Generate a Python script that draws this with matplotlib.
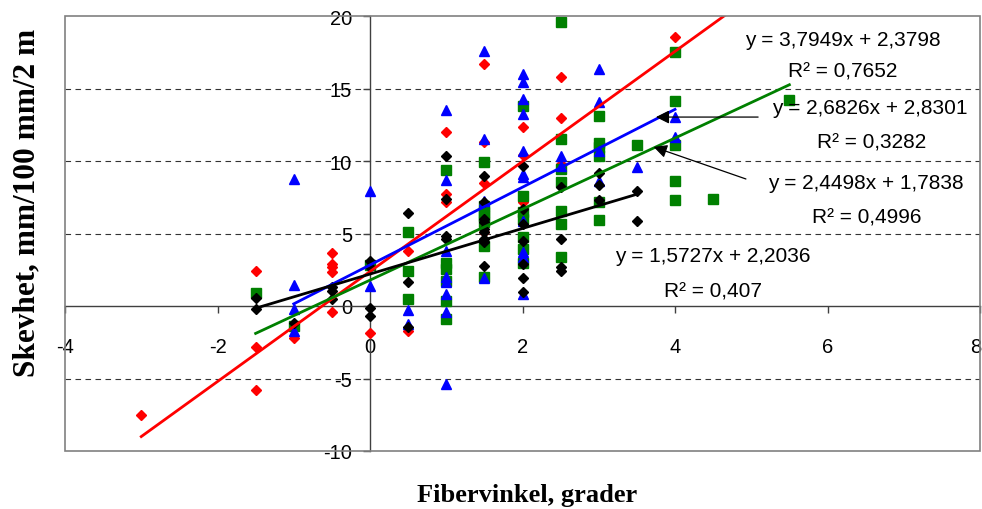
import matplotlib
matplotlib.use('Agg')
import matplotlib.pyplot as plt
from matplotlib.patches import Rectangle
from matplotlib.transforms import offset_copy
import numpy as np

# ---- data ----
red_x = [-3, -1.5, -1.5, -1.5, -1, -0.5, -0.5, -0.5, -0.5, -0.5, 0, 0.5, 0.5,
         1, 1, 1, 1.5, 1.5, 1.5, 1.5, 2, 2, 2, 2.5, 2.5, 2.5, 4]
red_y = [-7.5, 2.43, -2.8, -5.8, -2.2, 3.66, 2.9, 2.67, 2.37, -0.4, -1.86, 3.82, -1.7,
         11.98, 7.72, 7.15, 16.69, 11.33, 8.46, 5.08, 12.32, 10.41, 7.15, 15.82, 12.94, 9.79, 18.57]

green_x = [-1.5, -1, 0, 0.5, 0.5, 0.5,
           1, 1, 1, 1, 1, 1,
           1.5, 1.5, 1.5, 1.5, 1.5, 1.5, 1.5,
           2, 2, 2, 2, 2, 2, 2,
           2.5, 2.5, 2.5, 2.5, 2.5, 2.5, 2.5,
           3, 3, 3, 3, 3, 3,
           3.5, 4, 4, 4, 4, 4, 4.5, 5.5]
green_y = [0.9, -1.35, 2.85, 5.08, 2.44, 0.48,
           9.38, 3.0, 2.55, 1.75, 0.37, -0.9,
           9.95, 6.9, 6.5, 6.2, 5.8, 4.16, 1.98,
           13.81, 7.6, 6.46, 6.0, 4.74, 3.93, 3.0,
           19.6, 11.52, 9.45, 8.57, 6.57, 5.66, 3.36,
           13.13, 11.22, 10.94, 10.37, 7.15, 5.95,
           11.13, 17.54, 14.16, 11.13, 8.6, 7.31, 7.38, 14.23]

blue_x = [-1, -1, -1, -1, 0, 0, 0.5, 0.5,
          1, 1, 1, 1, 1, 1, 1, 1,
          1.5, 1.5, 1.5, 1.5,
          2, 2, 2, 2, 2, 2, 2, 2, 2, 2, 2,
          2.5, 2.5, 3, 3, 3, 3, 3.5, 4, 4]
blue_y = [8.76, 1.47, -0.2, -1.7, 7.9, 1.4, -0.25, -1.24,
          13.54, 8.71, 3.8, 1.98, 1.63, 0.83, -0.44, -5.4,
          17.6, 11.52, 7.26, 1.91,
          16.0, 15.43, 14.28, 13.24, 10.71, 9.1, 8.9, 5.88, 3.7, 3.36, 0.83,
          10.37, 9.68, 16.34, 14.09, 10.71, 8.64, 9.56, 13.01, 11.63]

black_x = [-1.5, -1.5, -1, -0.5, -0.5, -0.5, 0, 0, 0, 0, 0.5, 0.5, 0.5,
           1, 1, 1, 1,
           1.5, 1.5, 1.5, 1.5, 1.5, 1.5, 1.5, 1.5, 1.5,
           2, 2, 2, 2, 2, 2, 2,
           2.5, 2.5, 2.5, 2.5, 3, 3, 3, 3.5, 3.5]
black_y = [0.55, -0.2, -1.17, 1.29, 1.06, 0.5, 3.12, 2.67, -0.16, -0.71, 6.41, 1.63, -1.43,
           10.32, 7.38, 4.85, 4.62,
           8.99, 7.15, 6.0, 5.8, 5.3, 5.1, 4.6, 4.4, 2.78,
           9.68, 6.69, 5.66, 4.5, 2.9, 1.91, 0.99,
           8.18, 4.62, 2.67, 2.44, 9.17, 8.37, 7.33, 7.95, 5.88]

# trendlines: slope, intercept, x-range
trend_names = ["red", "blue", "green", "black"]
trend_slope = [3.7949, 2.6826, 2.4498, 1.5727]
trend_icpt = [2.3798, 2.8301, 1.7838, 2.2036]
trend_xmin = [-3, -1, -1.5, -1.5]
trend_xmax = [5, 4, 5.5, 3.5]
trend_eq = ["y = 3,7949x + 2,3798", "y = 2,6826x + 2,8301",
            "y = 2,4498x + 1,7838", "y = 1,5727x + 2,2036"]
trend_r2 = ["R² = 0,7652", "R² = 0,3282", "R² = 0,4996", "R² = 0,407"]

xticks = [-4, -2, 0, 2, 4, 6, 8]
yticks = [-10, -5, 0, 5, 10, 15, 20]
grid_y = [-5, 5, 10, 15]

SANS = ['Liberation Sans', 'DejaVu Sans']
SERIF = ['Liberation Serif', 'DejaVu Serif']

fig = plt.figure(figsize=(9.82, 5.10), dpi=100)
ax = fig.add_axes([65/982, 58/510, 915/982, 435/510])
ax.set_xlim(-4, 8)
ax.set_ylim(-10, 20)

for g in grid_y:
    ax.axhline(g, color='#333333', lw=0.8, ls=(0, (5, 4)), zorder=1)

ax.add_patch(Rectangle((0, 0), 1, 1, transform=ax.transAxes, fill=False,
                       edgecolor='#808080', lw=1.2, clip_on=False, zorder=5))

for s in ['top', 'right']:
    ax.spines[s].set_visible(False)
ax.spines['left'].set_position(('data', 0))
ax.spines['bottom'].set_position(('data', 0))
for s in ['left', 'bottom']:
    ax.spines[s].set_color('#404040')
    ax.spines[s].set_linewidth(1.0)
    ax.spines[s].set_zorder(2)

ax.set_xticks(xticks)
ax.set_yticks(yticks)
ax.set_xticklabels([str(v) for v in xticks])
ax.set_yticklabels([str(v) for v in yticks])
ax.tick_params(axis='x', direction='out', length=5, width=1, color='#404040', pad=17)
ax.tick_params(axis='y', direction='out', length=5, width=1, color='#404040', pad=8)
for lab in ax.get_xticklabels() + ax.get_yticklabels():
    lab.set_fontfamily(SANS)
    lab.set_fontsize(14.5)
# keep the last x label (8) inside the figure edge
last = ax.get_xticklabels()[-1]
last.set_transform(offset_copy(last.get_transform(), fig=fig, x=-4, y=0, units='dots'))

ax.plot(red_x, red_y, ls='none', marker='D', ms=5.3, color='#FF0000', zorder=3)
ax.plot(green_x, green_y, ls='none', marker='s', ms=6.5, color='#008000', zorder=3)
ax.plot(blue_x, blue_y, ls='none', marker='^', ms=7.3, color='#0000FF', zorder=3)
ax.plot(black_x, black_y, ls='none', marker='D', ms=5.3, color='#000000', zorder=3)

line_colors = {'red': '#FF0000', 'blue': '#0000FF', 'green': '#008000', 'black': '#000000'}
for name, m, b, x0, x1 in zip(trend_names, trend_slope, trend_icpt, trend_xmin, trend_xmax):
    xs = np.array([x0, x1])
    ax.plot(xs, m * xs + b, color=line_colors[name], lw=2.0, zorder=4)

# equation labels (centre positions in data units)
eq_pos = [(6.2, 18.41), (6.56, 13.72), (6.5, 8.55), (4.49, 3.45)]
r2_pos = [(6.2, 16.2), (6.58, 11.31), (6.51, 6.14), (4.5, 1.03)]
for t, (x, y) in zip(trend_eq, eq_pos):
    ax.text(x, y, t, ha='center', va='center', fontsize=15, family=SANS, zorder=6)
for t, (x, y) in zip(trend_r2, r2_pos):
    ax.text(x, y, t, ha='center', va='center', fontsize=15, family=SANS, zorder=6)

arrow_kw = dict(arrowstyle='-|>', color='black', lw=0.9, mutation_scale=20, shrinkA=0, shrinkB=0)
ax.annotate('', xy=(3.75, 13.03), xytext=(5.09, 13.03), arrowprops=arrow_kw, zorder=6)
ax.annotate('', xy=(3.72, 10.97), xytext=(4.93, 8.76), arrowprops=arrow_kw, zorder=6)

fig.text(527/982, 1 - 496/510, 'Fibervinkel, grader', ha='center', va='center',
         fontsize=19, fontweight='bold', family=SERIF)
fig.text(27/982, 1 - 203/510, 'Skevhet, mm/100 mm/2 m', ha='center', va='center',
         rotation=90, fontsize=22.5, fontweight='bold', family=SERIF)

fig.savefig('out.png', dpi=100)
